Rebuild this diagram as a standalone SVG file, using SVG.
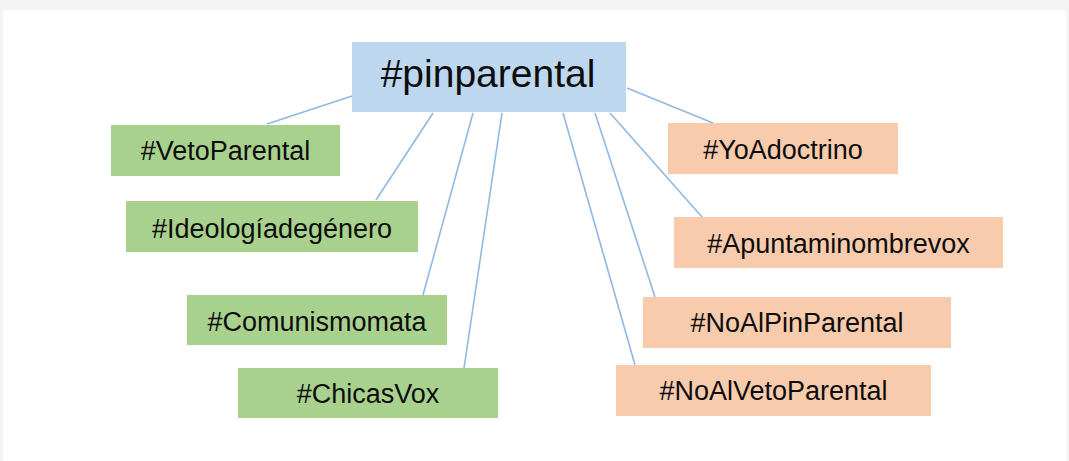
<svg xmlns="http://www.w3.org/2000/svg" width="1069" height="461" viewBox="0 0 1069 461">
<style>
.bg{fill:#f4f4f4}
.page{fill:#ffffff}
.g{fill:#a9d18e}
.o{fill:#f8cbad}
.c{fill:#bdd7ee}
.t{font-family:"Liberation Sans",Arial,sans-serif;font-size:27px;fill:#0d0d0d;text-anchor:middle}
.big{font-size:39px}
.ln{stroke:#8fb9e3;stroke-width:1.6;fill:none}
</style>
<rect class="bg" x="0" y="0" width="1069" height="461"/>
<rect class="page" x="3" y="10" width="1063" height="451"/>
<g id="connectors">
<line class="ln" x1="352" y1="96" x2="267" y2="124"/>
<line class="ln" x1="433" y1="113" x2="376" y2="200"/>
<line class="ln" x1="473" y1="113" x2="423" y2="295"/>
<line class="ln" x1="502" y1="113" x2="464" y2="368"/>
<line class="ln" x1="627" y1="88" x2="713" y2="123"/>
<line class="ln" x1="610" y1="113" x2="702" y2="217"/>
<line class="ln" x1="595" y1="113" x2="655" y2="297"/>
<line class="ln" x1="563" y1="113" x2="635" y2="365"/>
</g>
<g id="pinparental">
<rect class="c" x="352" y="42" width="274" height="70"/>
<text class="t big" x="488" y="87">#pinparental</text>
</g>
<g id="VetoParental">
<rect class="g" x="111" y="125" width="229" height="51"/>
<text class="t" x="225.5" y="160">#VetoParental</text>
</g>
<g id="Ideologiadegenero">
<rect class="g" x="126" y="201" width="292" height="51"/>
<text class="t" x="272" y="238">#Ideologíadegénero</text>
</g>
<g id="Comunismomata">
<rect class="g" x="187" y="295" width="260" height="50"/>
<text class="t" x="317" y="331">#Comunismomata</text>
</g>
<g id="ChicasVox">
<rect class="g" x="238" y="368" width="260" height="50"/>
<text class="t" x="368" y="403">#ChicasVox</text>
</g>
<g id="YoAdoctrino">
<rect class="o" x="668" y="123" width="230" height="51"/>
<text class="t" x="783" y="159">#YoAdoctrino</text>
</g>
<g id="Apuntaminombrevox">
<rect class="o" x="674" y="217" width="329" height="51"/>
<text class="t" x="838.5" y="253">#Apuntaminombrevox</text>
</g>
<g id="NoAlPinParental">
<rect class="o" x="643" y="297" width="308" height="51"/>
<text class="t" x="797" y="332">#NoAlPinParental</text>
</g>
<g id="NoAlVetoParental">
<rect class="o" x="616" y="365" width="315" height="51"/>
<text class="t" x="773.5" y="400">#NoAlVetoParental</text>
</g>
</svg>
